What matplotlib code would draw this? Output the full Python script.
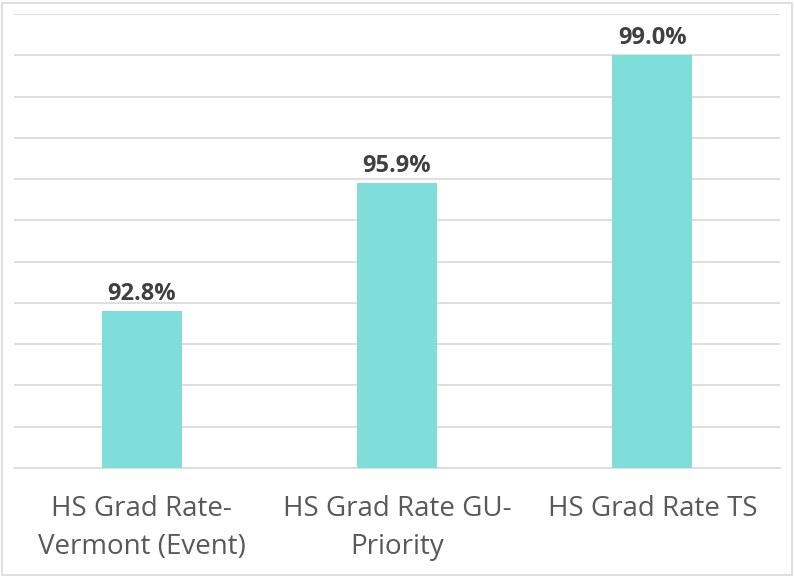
import matplotlib
matplotlib.use("Agg")
import matplotlib.pyplot as plt
from matplotlib.patches import Rectangle

categories = ["HS Grad Rate-\nVermont (Event)", "HS Grad Rate GU-\nPriority", "HS Grad Rate TS"]
values = [92.8, 95.9, 99.0]
labels = ["92.8%", "95.9%", "99.0%"]

plt.rcParams['font.family'] = ['Open Sans', 'DejaVu Sans']

fig = plt.figure(figsize=(7.95, 5.76), dpi=100)
ax = fig.add_axes([14/795, 1-468/576, 766/795, (468-14)/576])

x = list(range(len(categories)))
ax.bar(x, values, width=0.313, color="#7FDED9", zorder=3)
ax.set_ylim(89, 100)
ax.set_xlim(-0.5, 2.5)
ax.set_yticks(range(89, 101))
ax.yaxis.grid(True, color="#D9D9D9", linewidth=1.2, zorder=0)
ax.tick_params(axis='y', left=False, labelleft=False)
ax.tick_params(axis='x', bottom=False, labelsize=20, labelcolor="#595959", pad=16)
ax.set_xticks(x)
ax.set_xticklabels(categories, linespacing=1.45)
for s in ["top", "right", "left"]:
    ax.spines[s].set_visible(False)
ax.spines["bottom"].set_color("#D9D9D9")
ax.spines["bottom"].set_linewidth(1.2)

for xi, v, lab in zip(x, values, labels):
    ax.annotate(lab, (xi, v), xytext=(0, 3.5), textcoords="offset points",
                ha="center", va="bottom", fontsize=17, fontweight="bold",
                color="#404040")

fig.patches.append(Rectangle((2/795, 1/576), 790/795, 572/576, transform=fig.transFigure,
                             fill=False, edgecolor="#D9D9D9", linewidth=1.2))

fig.savefig("out.png", dpi=100)
